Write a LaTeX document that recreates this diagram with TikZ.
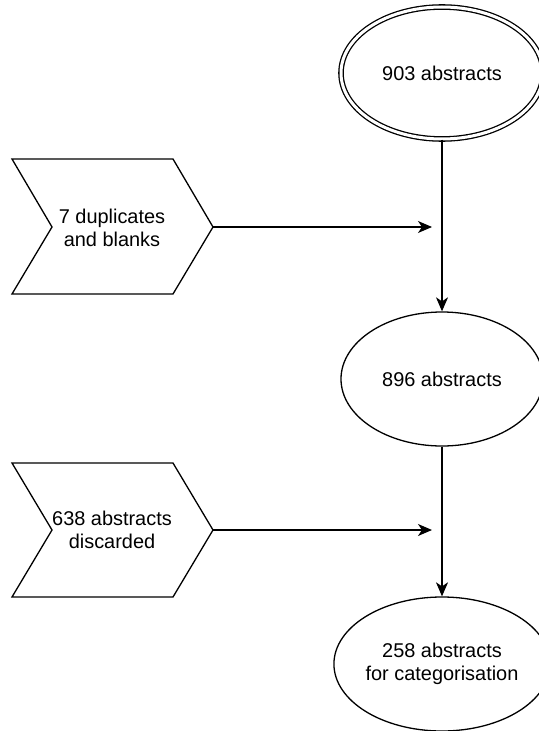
\documentclass[tikz,border=0pt]{standalone}
\usepackage{fontspec}
\setmainfont{Liberation Sans}
\usetikzlibrary{shapes.geometric,arrows.meta}
\begin{document}
\begin{tikzpicture}[x=1bp,y=-1bp,
  lw/.style={line width=1.3bp},
  oval/.style={ellipse,draw,lw,minimum width=202bp,minimum height=134bp,inner sep=0pt,align=center,font=\fontsize{20}{23}\selectfont},
  chev/.style={draw,lw,line join=miter},
  lbl/.style={align=center,font=\fontsize{20}{23}\selectfont,inner sep=0pt},
  arr/.style={lw,-{Stealth[length=14bp,width=12bp,inset=4bp]}}]
\useasboundingbox (0,0) rectangle (539,731);
% top double ellipse
\node[ellipse,draw,lw,minimum width=202bp,minimum height=132bp,inner sep=0pt,double,double distance=3bp] (a) at (442,73) {};
\node[lbl] (at) at (442,73) {903 abstracts};
\node[oval] (b) at (442,379) {896 abstracts};
\node[oval] (c) at (442,664) {258 abstracts\\for categorisation};
% chevron 1
\draw[chev] (12,159) -- (173,159) -- (213,227) coordinate (p1) -- (173,294) -- (12,294) -- (52,227) -- cycle;
\node[lbl] (t1) at (112,228) {7 duplicates\\and blanks};
% chevron 2
\draw[chev] (12,463) -- (173,463) -- (213,530) coordinate (p2) -- (173,597) -- (12,597) -- (52,530) -- cycle;
\node[lbl] (t2) at (112,530) {638 abstracts\\discarded};
\coordinate (e1) at (432,227);
\coordinate (e2) at (432,530);
\draw[arr] (a.south) -- (b.north);
\draw[arr] (b.south) -- (c.north);
\draw[arr] (p1) -- (e1);
\draw[arr] (p2) -- (e2);
\end{tikzpicture}
\end{document}
